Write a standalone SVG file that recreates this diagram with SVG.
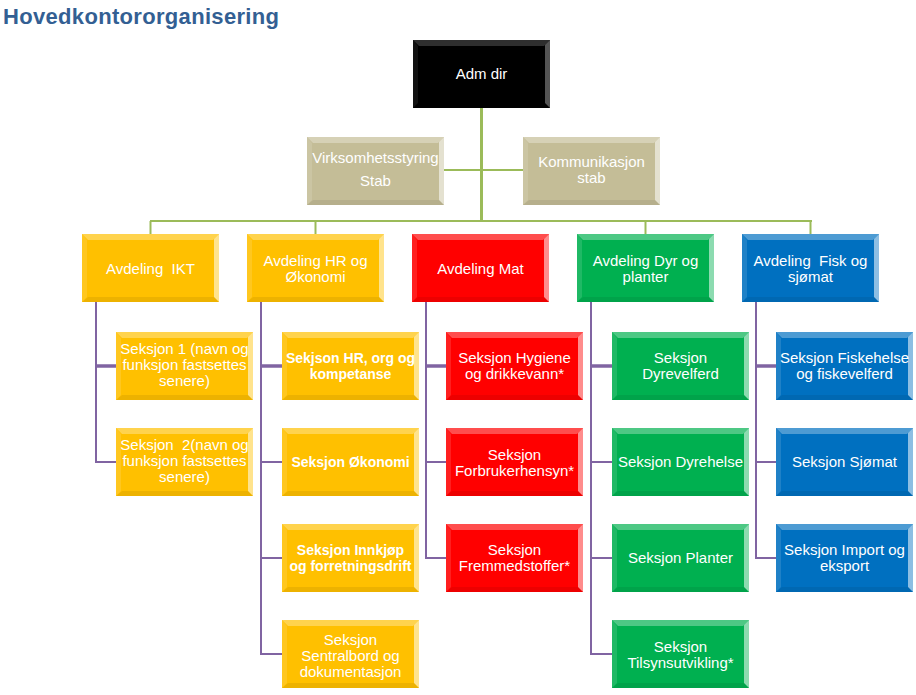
<svg xmlns="http://www.w3.org/2000/svg" xmlns:xlink="http://www.w3.org/1999/xlink" width="916" height="695" viewBox="0 0 916 695">
<style>
.t{font-family:"Liberation Sans",Arial,sans-serif;font-size:15px;fill:#fff;text-anchor:middle}
.b{font-weight:bold;font-size:14px}
.title{font-family:"Liberation Sans",Arial,sans-serif;font-size:22px;font-weight:bold;fill:#335F93}
.blk{fill:#000}.tan{fill:#C4BD97}.yel{fill:#FFC000}.red{fill:#FF0000}.grn{fill:#00B050}.blu{fill:#0070C0}
.gl{stroke:#9BBB59;fill:none}
.pl{stroke:#8064A2;fill:none;stroke-width:2}
.pl3{stroke:#8064A2;fill:none;stroke-width:3.5}
</style>
<defs>
<g id="bev">
<polygon points="0,0 137,0 131,6 6,6" fill="#fff" opacity=".3"/>
<polygon points="137,0 137,68 132,63 132,5" fill="#fff" opacity=".55"/>
<polygon points="0,68 137,68 132,63 6,63" fill="#000" opacity=".07"/>
<polygon points="0,0 0,68 5,63 5,6" fill="#fff" opacity=".12"/>
</g>
</defs>
<rect width="916" height="695" fill="#fff"/>
<text class="title" x="3" y="24" textLength="276" lengthAdjust="spacing">Hovedkontororganisering</text>

<g id="connectors">
<line class="gl" stroke-width="3" x1="481.5" y1="108" x2="481.5" y2="222"/>
<line class="gl" stroke-width="2" x1="444" y1="170" x2="523" y2="170"/>
<line class="gl" stroke-width="2" x1="150" y1="221" x2="812" y2="221"/>
<line class="gl" stroke-width="2" x1="150.5" y1="221" x2="150.5" y2="234"/>
<line class="gl" stroke-width="2" x1="315.5" y1="221" x2="315.5" y2="234"/>
<line class="gl" stroke-width="2" x1="645.5" y1="221" x2="645.5" y2="234"/>
<line class="gl" stroke-width="2" x1="810.5" y1="221" x2="810.5" y2="234"/>
<polyline class="pl" points="96,302 96,462 116,462"/>
<line class="pl3" x1="96" y1="366" x2="116" y2="366"/>
<polyline class="pl" points="261,302 261,654 282,654"/>
<line class="pl3" x1="261" y1="366" x2="282" y2="366"/>
<line class="pl" x1="261" y1="462" x2="282" y2="462"/>
<line class="pl" x1="261" y1="558" x2="282" y2="558"/>
<polyline class="pl" points="426,302 426,558 446,558"/>
<line class="pl3" x1="426" y1="366" x2="446" y2="366"/>
<line class="pl" x1="426" y1="462" x2="446" y2="462"/>
<polyline class="pl" points="591,302 591,654 612,654"/>
<line class="pl3" x1="591" y1="366" x2="612" y2="366"/>
<line class="pl" x1="591" y1="462" x2="612" y2="462"/>
<line class="pl" x1="591" y1="558" x2="612" y2="558"/>
<polyline class="pl" points="756,302 756,558 776,558"/>
<line class="pl3" x1="756" y1="366" x2="776" y2="366"/>
<line class="pl" x1="756" y1="462" x2="776" y2="462"/>
</g>

<g id="adm"><rect class="blk" x="413" y="40" width="137" height="68"/><use xlink:href="#bev" x="413" y="40" opacity=".6"/><text class="t" x="481.5" y="79">Adm  dir</text></g>
<g id="virk"><rect class="tan" x="307" y="137" width="137" height="68"/><use xlink:href="#bev" x="307" y="137"/><text class="t" x="375.5" y="163">Virksomhetsstyring</text><text class="t" x="375.5" y="186">Stab</text></g>
<g id="komm"><rect class="tan" x="523" y="137" width="137" height="68"/><use xlink:href="#bev" x="523" y="137"/><text class="t" x="591.5" y="167">Kommunikasjon</text><text class="t" x="591.5" y="183">stab</text></g>

<g id="ikt"><rect class="yel" x="82" y="234" width="137" height="68"/><use xlink:href="#bev" x="82" y="234"/><text class="t" x="150.5" y="274">Avdeling&#160; IKT</text></g>
<g id="hr"><rect class="yel" x="247" y="234" width="137" height="68"/><use xlink:href="#bev" x="247" y="234"/><text class="t" x="315.5" y="266">Avdeling HR og</text><text class="t" x="315.5" y="282">Økonomi</text></g>
<g id="mat"><rect class="red" x="412" y="234" width="137" height="68"/><use xlink:href="#bev" x="412" y="234"/><text class="t" x="480.5" y="274">Avdeling Mat</text></g>
<g id="dyr"><rect class="grn" x="577" y="234" width="137" height="68"/><use xlink:href="#bev" x="577" y="234"/><text class="t" x="645.5" y="266">Avdeling Dyr og</text><text class="t" x="645.5" y="282">planter</text></g>
<g id="fisk"><rect class="blu" x="742" y="234" width="137" height="68"/><use xlink:href="#bev" x="742" y="234"/><text class="t" x="810.5" y="266">Avdeling&#160; Fisk og</text><text class="t" x="810.5" y="282">sjømat</text></g>

<g id="ikt1"><rect class="yel" x="116" y="332" width="137" height="68"/><use xlink:href="#bev" x="116" y="332"/><text class="t" x="184.5" y="354">Seksjon 1 (navn og</text><text class="t" x="184.5" y="370">funksjon fastsettes</text><text class="t" x="184.5" y="386">senere)</text></g>
<g id="ikt2"><rect class="yel" x="116" y="428" width="137" height="68"/><use xlink:href="#bev" x="116" y="428"/><text class="t" x="184.5" y="450">Seksjon&#160; 2(navn og</text><text class="t" x="184.5" y="466">funksjon fastsettes</text><text class="t" x="184.5" y="482">senere)</text></g>

<g id="hr1"><rect class="yel" x="282" y="332" width="137" height="68"/><use xlink:href="#bev" x="282" y="332"/><text class="t b" x="350.5" y="363">Sekjson HR, org og</text><text class="t b" x="350.5" y="379">kompetanse</text></g>
<g id="hr2"><rect class="yel" x="282" y="428" width="137" height="68"/><use xlink:href="#bev" x="282" y="428"/><text class="t b" x="350.5" y="467">Seksjon Økonomi</text></g>
<g id="hr3"><rect class="yel" x="282" y="524" width="137" height="68"/><use xlink:href="#bev" x="282" y="524"/><text class="t b" x="350.5" y="555">Seksjon Innkjøp</text><text class="t b" x="350.5" y="571">og forretningsdrift</text></g>
<g id="hr4"><rect class="yel" x="282" y="620" width="137" height="68"/><use xlink:href="#bev" x="282" y="620"/><text class="t" x="350.5" y="645">Seksjon</text><text class="t" x="350.5" y="661">Sentralbord og</text><text class="t" x="350.5" y="677">dokumentasjon</text></g>

<g id="mat1"><rect class="red" x="446" y="332" width="137" height="68"/><use xlink:href="#bev" x="446" y="332"/><text class="t" x="514.5" y="363">Seksjon Hygiene</text><text class="t" x="514.5" y="379">og drikkevann*</text></g>
<g id="mat2"><rect class="red" x="446" y="428" width="137" height="68"/><use xlink:href="#bev" x="446" y="428"/><text class="t" x="514.5" y="460">Seksjon</text><text class="t" x="514.5" y="476">Forbrukerhensyn*</text></g>
<g id="mat3"><rect class="red" x="446" y="524" width="137" height="68"/><use xlink:href="#bev" x="446" y="524"/><text class="t" x="514.5" y="555">Seksjon</text><text class="t" x="514.5" y="571">Fremmedstoffer*</text></g>

<g id="dyr1"><rect class="grn" x="612" y="332" width="137" height="68"/><use xlink:href="#bev" x="612" y="332"/><text class="t" x="680.5" y="363">Seksjon</text><text class="t" x="680.5" y="379">Dyrevelferd</text></g>
<g id="dyr2"><rect class="grn" x="612" y="428" width="137" height="68"/><use xlink:href="#bev" x="612" y="428"/><text class="t" x="680.5" y="467">Seksjon Dyrehelse</text></g>
<g id="dyr3"><rect class="grn" x="612" y="524" width="137" height="68"/><use xlink:href="#bev" x="612" y="524"/><text class="t" x="680.5" y="563">Seksjon Planter</text></g>
<g id="dyr4"><rect class="grn" x="612" y="620" width="137" height="68"/><use xlink:href="#bev" x="612" y="620"/><text class="t" x="680.5" y="652">Seksjon</text><text class="t" x="680.5" y="668">Tilsynsutvikling*</text></g>

<g id="fisk1"><rect class="blu" x="776" y="332" width="137" height="68"/><use xlink:href="#bev" x="776" y="332"/><text class="t" x="844.5" y="363">Seksjon Fiskehelse</text><text class="t" x="844.5" y="379">og fiskevelferd</text></g>
<g id="fisk2"><rect class="blu" x="776" y="428" width="137" height="68"/><use xlink:href="#bev" x="776" y="428"/><text class="t" x="844.5" y="467">Seksjon Sjømat</text></g>
<g id="fisk3"><rect class="blu" x="776" y="524" width="137" height="68"/><use xlink:href="#bev" x="776" y="524"/><text class="t" x="844.5" y="555">Seksjon Import og</text><text class="t" x="844.5" y="571">eksport</text></g>
</svg>
